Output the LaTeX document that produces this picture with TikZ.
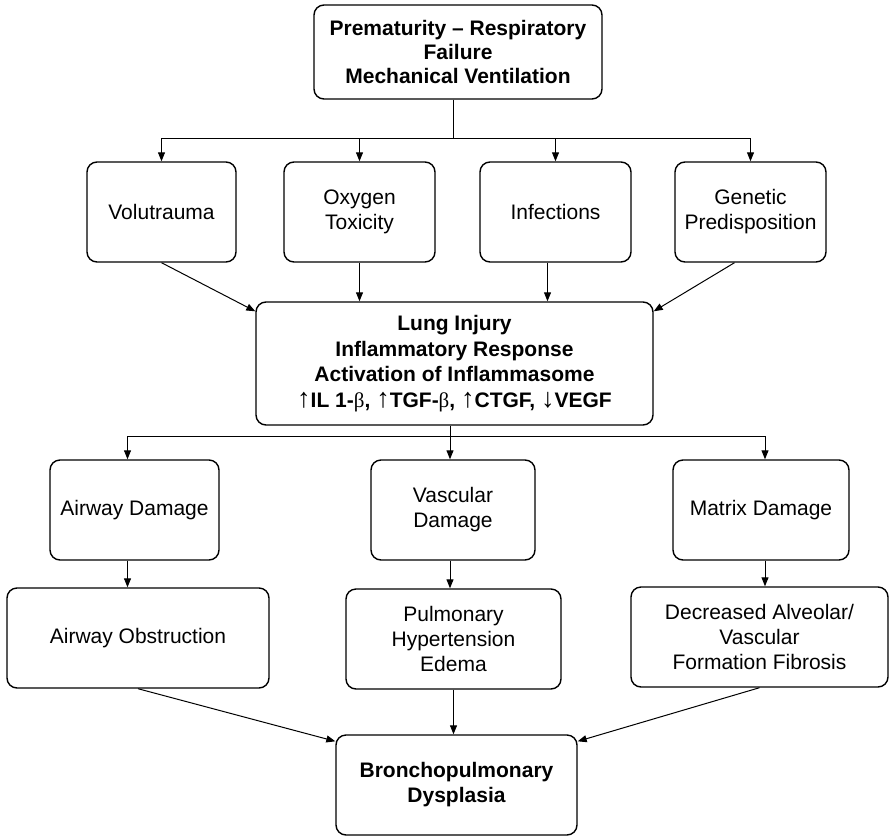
\documentclass[tikz,border=0pt]{standalone}
\usepackage{fontspec}
\setmainfont{Liberation Sans}
\newfontfamily\symfont{Liberation Serif}
\usetikzlibrary{arrows.meta}
\newcommand{\up}{{\mdseries\symfont\fontsize{27}{25}\selectfont ↑}}
\newcommand{\down}{{\mdseries\symfont\fontsize{27}{25}\selectfont ↓}}
\newcommand{\bet}{{\mdseries\symfont β}}
\tikzset{
  box/.style={draw, line width=1.4pt, rounded corners=10pt, align=center,
    inner sep=0pt, font=\fontsize{21}{25}\selectfont},
  arr/.style={-{Triangle[length=9pt,width=7pt]}, line width=1pt},
  ln/.style={line width=1pt}
}
\begin{document}
\begin{tikzpicture}
    \def\x{1pt}
    \def\y{-1pt}
    \useasboundingbox (0,0) rectangle (889*\x, 836*\y);
    % top
    \node[box, minimum width=288pt, minimum height=94pt, font=\fontsize{21}{24}\selectfont\bfseries] (A0_0) at (458*\x, 52*\y)
      {Prematurity -- Respiratory\\Failure\\Mechanical Ventilation};
    % causes
    \node[box, minimum width=149pt, minimum height=100pt] (A1_0) at (161.5*\x, 212*\y) {Volutrauma};
    \node[box, minimum width=151pt, minimum height=100pt] (A1_1) at (359.5*\x, 212*\y) {Oxygen\\Toxicity};
    \node[box, minimum width=151pt, minimum height=100pt] (A1_2) at (555.5*\x, 212*\y) {Infections};
    \node[box, minimum width=151pt, minimum height=100pt] (A1_3) at (750.5*\x, 212*\y) {Genetic\\Predisposition};
    % injury
    \node[box, minimum width=397pt, minimum height=123pt, font=\fontsize{21}{25.5}\selectfont\bfseries] (A2_0) at (454.5*\x, 363.5*\y)
      {Lung Injury\\Inflammatory Response\\Activation of Inflammasome\\
       \up IL 1-\bet, \up TGF-\bet, \up CTGF, \down VEGF};
    % damage
    \node[box, minimum width=169pt, minimum height=100pt] (A3_0) at (134.5*\x, 510*\y) {Airway Damage};
    \node[box, minimum width=164pt, minimum height=100pt] (A3_1) at (453*\x, 510*\y) {Vascular\\Damage};
    \node[box, minimum width=176pt, minimum height=100pt] (A3_2) at (761*\x, 510*\y) {Matrix Damage};
    % consequences
    \node[box, minimum width=262pt, minimum height=100pt] (A4_0) at (138*\x, 638*\y) {Airway Obstruction};
    \node[box, minimum width=215pt, minimum height=100pt] (A4_1) at (453.5*\x, 639*\y) {Pulmonary\\Hypertension\\Edema};
    \node[box, minimum width=257pt, minimum height=100pt] (A4_2) at (759.5*\x, 637*\y) {Decreased Alveolar/\\Vascular\\Formation Fibrosis};
    % outcome
    \node[box, minimum width=241pt, minimum height=100pt, font=\fontsize{21}{25}\selectfont\bfseries] (A5_0) at (456.5*\x, 785*\y)
      {Bronchopulmonary\\Dysplasia};
    \coordinate (B0) at (453*\x, 138*\y);
    \coordinate (B1) at (450*\x, 436*\y);
    \draw[ln] (B0 |- A0_0.south) -- (B0);
    \draw[arr] (B0) -| (A1_0);
    \draw[arr] (B0) -| (A1_1);
    \draw[arr] (B0) -| (A1_2);
    \draw[arr] (B0) -| (A1_3);
    \draw[arr] (A1_0.south) -- ([yshift=-10pt]A2_0.north west);
    \draw[arr] (A1_1.south) -- (A1_1.south |- A2_0.north);
    \draw[arr] ([xshift=-8pt]A1_2.south) -- ([xshift=-8pt]A1_2.south |- A2_0.north);
    \draw[arr] ([xshift=-16pt]A1_3.south) -- ([yshift=-10pt]A2_0.north east);
    \draw[ln] (B1 |- A2_0.south) -- (B1);
    \draw[arr] (B1) -| ([xshift=-7pt]A3_0.north);
    \draw[arr] (B1) -- (B1 |- A3_1.north);
    \draw[arr] (B1) -| ([xshift=4pt]A3_2.north);
    \draw[arr] ([xshift=-7pt]A3_0.south) -- ([xshift=-7pt]A3_0.south |- A4_0.north);
    \draw[arr] ([xshift=-3pt]A3_1.south) -- ([xshift=-3pt]A3_1.south |- A4_1.north);
    \draw[arr] ([xshift=4pt]A3_2.south) -- ([xshift=4pt]A3_2.south |- A4_2.north);
    \draw[arr] (A4_0.south) -- ([yshift=-7pt]A5_0.north west);
    \draw[arr] (A4_1.south) -- (A4_1.south |- A5_0.north);
    \draw[arr] (A4_2.south) -- ([yshift=-7pt]A5_0.north east);
\end{tikzpicture}
\end{document}
